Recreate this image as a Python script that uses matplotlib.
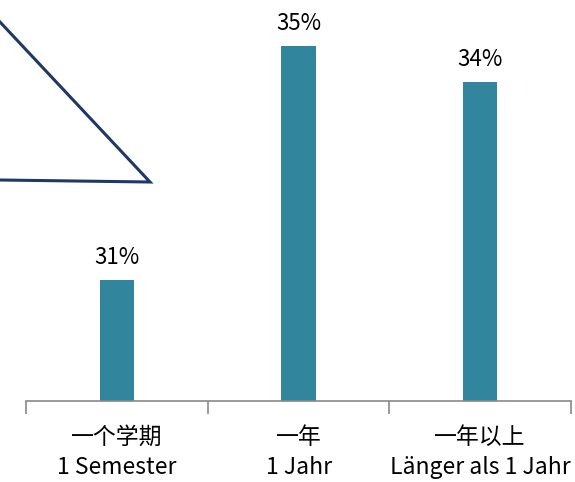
import matplotlib.pyplot as plt
from matplotlib.lines import Line2D

plt.rcParams['font.family'] = ['Noto Sans CJK SC', 'DejaVu Sans']

# dados
categorias = ["一个学期\n1 Semester", "一年\n1 Jahr", "一年以上\nLänger als 1 Jahr"]
valores = [31.0, 34.9, 34.3]

cor_barra = "#31859C"
cor_eixo = "#898989"

fig = plt.figure(figsize=(5.75, 4.82), dpi=100)
ax = fig.add_axes([26/575, 81/482, 545/575, 401/482])

x = range(len(categorias))
barras = ax.bar(x, valores, width=0.19, color=cor_barra)

ax.set_xlim(-0.5, 2.5)
ax.set_ylim(28.98, 35.66)

for b, v in zip(barras, valores):
    ax.annotate(f"{v:.0f}%", (b.get_x() + b.get_width()/2, v),
                xytext=(0, 8), textcoords="offset points",
                ha="center", va="bottom", fontsize=16, color="black")

# eixo x
for lado in ["top", "right", "left"]:
    ax.spines[lado].set_visible(False)
ax.spines["bottom"].set_color(cor_eixo)
ax.spines["bottom"].set_linewidth(1.2)
ax.set_yticks([])
ax.set_xticks(list(x))
ax.set_xticklabels(categorias, fontsize=16.5, linespacing=1.4)
ax.tick_params(axis="x", which="major", length=0, pad=18)
ax.set_xticks([-0.5, 0.5, 1.5, 2.5], minor=True)
ax.tick_params(axis="x", which="minor", length=9, width=1.2, color=cor_eixo)

# forma do balao (canto superior esquerdo)
linha = Line2D([0, 150/575, 0], [1 - 22/482, 1 - 182/482, 1 - 180/482],
               transform=fig.transFigure, color="#1F3864", linewidth=2.2,
               solid_joinstyle="miter")
fig.add_artist(linha)

fig.savefig("out.png", dpi=100)
